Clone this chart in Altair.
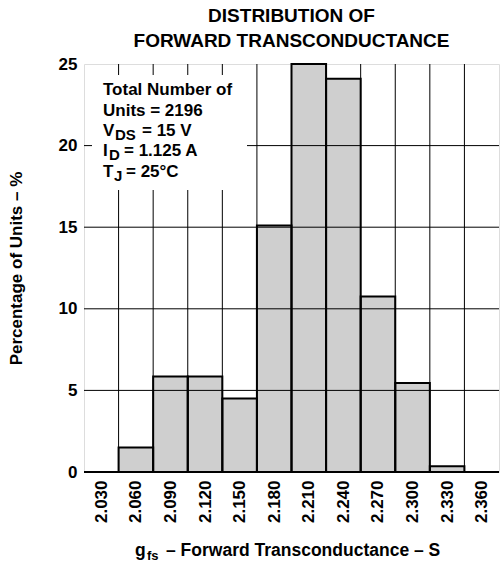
import altair as alt
import pandas as pd

# ---- data ----
centers = [2.030, 2.060, 2.090, 2.120, 2.150, 2.180, 2.210, 2.240, 2.270, 2.300, 2.330, 2.360]
percent = [0.0, 1.5, 5.85, 5.85, 4.5, 15.1, 25.0, 24.1, 10.75, 5.45, 0.35, 0.0]
bin_width = 0.030
y_ticks = [0, 5, 10, 15, 20, 25]
title_lines = ["DISTRIBUTION OF", "FORWARD TRANSCONDUCTANCE"]
y_title = "Percentage of Units – %"

FONT = "Liberation Sans"
W, H = 415, 408

bars = pd.DataFrame({
    "center": centers,
    "lo": [c - bin_width / 2 for c in centers],
    "hi": [c + bin_width / 2 for c in centers],
    "pct": percent,
})
edges = pd.DataFrame({"edge": [c + bin_width / 2 for c in centers[:-1]]})
hgrid = pd.DataFrame({"v": y_ticks[1:-1]})

xscale = alt.Scale(domain=[centers[0] - bin_width / 2, centers[-1] + bin_width / 2], nice=False, zero=False)
yscale = alt.Scale(domain=[0, 25], nice=False)

xaxis = alt.Axis(values=centers, format=".3f", labelAngle=270, labelAlign="right",
                 labelBaseline="middle", labelPadding=8, ticks=False, domain=False, grid=False,
                 labelFont=FONT, labelFontSize=17, labelFontWeight="bold", labelColor="black",
                 title=None, labelOverlap=False)
yaxis = alt.Axis(values=y_ticks, ticks=False, domain=False, grid=False, labelPadding=7,
                 labelFont=FONT, labelFontSize=17, labelFontWeight="bold", labelColor="black",
                 title=y_title, titleFont=FONT, titleFontSize=17, titleFontWeight="bold",
                 titleColor="black", titleAngle=270, titleAlign="center", titleBaseline="middle",
                 titleX=-68, titleY=H / 2)

base = alt.Chart(bars)
fill = base.mark_rect(fill="#cfcfcf", stroke=None).encode(
    x=alt.X("lo:Q", scale=xscale, axis=xaxis),
    x2="hi:Q",
    y=alt.Y("pct:Q", scale=yscale, axis=yaxis),
    y2=alt.datum(0),
)
vgrid = alt.Chart(edges).mark_rule(color="black", strokeWidth=1).encode(
    x=alt.X("edge:Q", scale=xscale, axis=xaxis))
hg = alt.Chart(hgrid).mark_rule(color="black", strokeWidth=1).encode(
    y=alt.Y("v:Q", scale=yscale, axis=yaxis))
outline = base.mark_rect(fillOpacity=0, stroke="black", strokeWidth=2).encode(
    x=alt.X("lo:Q", scale=xscale, axis=xaxis),
    x2="hi:Q",
    y=alt.Y("pct:Q", scale=yscale, axis=yaxis),
    y2=alt.datum(0),
)
box = alt.Chart(bars).mark_rect(fill="white").encode(
    x=alt.value(8), x2=alt.value(163), y=alt.value(11), y2=alt.value(126))


def txt(s, x, y, size=17):
    return alt.Chart(pd.DataFrame({"t": [s]})).mark_text(
        align="left", baseline="alphabetic", font=FONT, fontSize=size,
        fontWeight="bold", color="black").encode(
        text="t:N", x=alt.value(x), y=alt.value(y))


notes = [
    txt("Total Number of", 19, 31),
    txt("Units = 2196", 19, 52),
    txt("V", 19, 72), txt("DS", 31, 76, 15), txt("= 15 V", 58, 72),
    txt("I", 19, 92), txt("D", 25, 96, 15), txt("= 1.125 A", 40, 92),
    txt("T", 19, 113), txt("J", 30, 117, 15), txt("= 25°C", 42, 113),
    txt("g", 51, 492, 17.5), txt("fs", 63, 496, 13),
    txt("– Forward Transconductance – S", 82, 492, 17.5),
]

chart = alt.layer(fill, vgrid, hg, outline, box, *notes).properties(
    width=W, height=H,
    title=alt.TitleParams(title_lines, font=FONT, fontSize=19, fontWeight="bold",
                          color="black", anchor="middle", lineHeight=25, offset=4),
    autosize=alt.AutoSizeParams(type="none"),
    padding={"left": 84, "top": 64, "right": 1, "bottom": 92},
).configure_view(stroke="black", strokeWidth=2).configure(background="white")

chart.save("out.html", embed_options={"renderer": "svg", "actions": False})
